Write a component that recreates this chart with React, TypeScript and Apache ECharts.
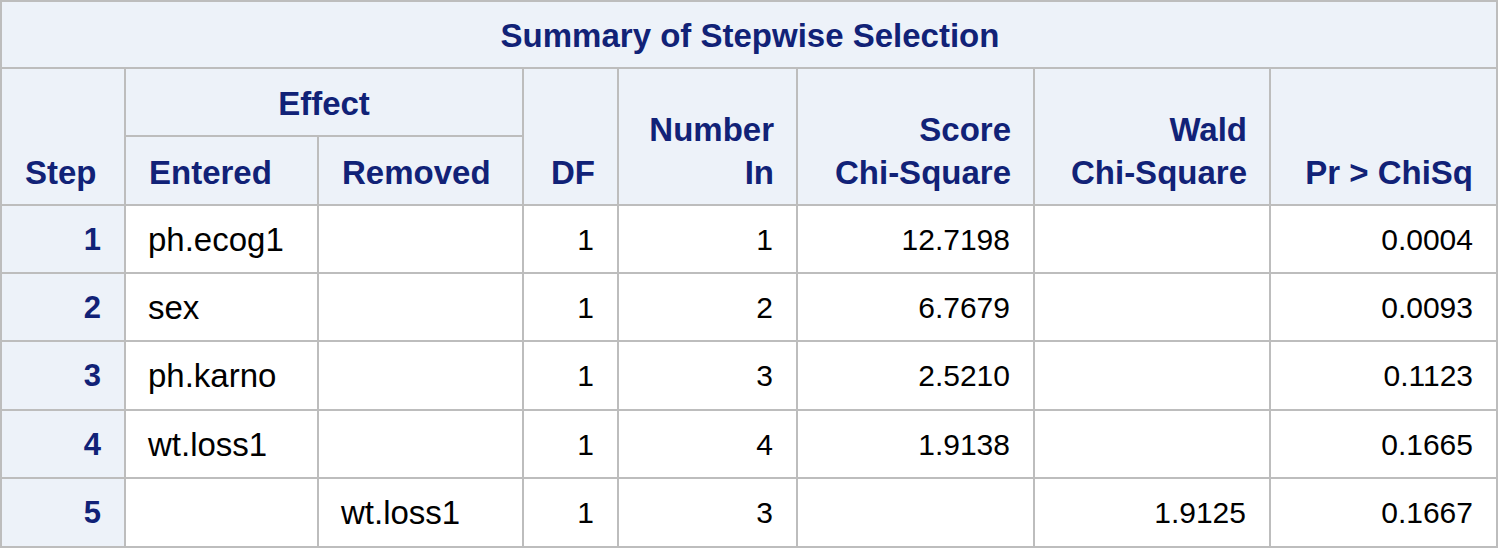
import {useEffect, useRef} from "react";
import * as echarts from "echarts";

const title = "Summary of Stepwise Selection";
const steps = ["1", "2", "3", "4", "5"];
const entered = ["ph.ecog1", "sex", "ph.karno", "wt.loss1", ""];
const removed = ["", "", "", "", "wt.loss1"];
const df = ["1", "1", "1", "1", "1"];
const numberIn = ["1", "2", "3", "4", "3"];
const scoreChiSq = ["12.7198", "6.7679", "2.5210", "1.9138", ""];
const waldChiSq = ["", "", "", "", "1.9125"];
const prChiSq = ["0.0004", "0.0093", "0.1123", "0.1665", "0.1667"];

const colX = [1, 125, 318, 523, 618, 797, 1034, 1270, 1497];
const rowY = [205, 273, 341, 410, 478, 547];
const HEAD_BG = "#EDF2F9";
const BLUE = "#112277";
const LINE = "#BDBDBD";
const FONT = "Liberation Sans, Arial, sans-serif";

export default function App() {
    const domRef = useRef<HTMLDivElement>(null);

    useEffect(() => {
        document.body.style.margin = "0";
        if (!domRef.current) return;
        const chart = echarts.init(domRef.current, null, {renderer: "svg"});
        const els: any[] = [];
        const cell = (x0: number, y0: number, x1: number, y1: number, fill: string) =>
            els.push({type: "rect", shape: {x: x0, y: y0, width: x1 - x0, height: y1 - y0},
                style: {fill, stroke: LINE, lineWidth: 2}});
        const text = (t: string, x: number, y: number, align: string, bold: boolean, color: string, size = 33) =>
            els.push({type: "text", x, y, style: {text: t, fill: color, font: `${bold ? "bold " : ""}${size}px ${FONT}`,
                align, verticalAlign: "middle"}});

        // title + headers
        cell(colX[0], 1, colX[8], 68, HEAD_BG);
        text(title, 750, 35, "center", true, BLUE);
        cell(colX[0], 68, colX[1], 205, HEAD_BG);
        cell(colX[1], 68, colX[3], 136, HEAD_BG);
        cell(colX[1], 136, colX[2], 205, HEAD_BG);
        cell(colX[2], 136, colX[3], 205, HEAD_BG);
        for (let c = 3; c < 8; c++) cell(colX[c], 68, colX[c + 1], 205, HEAD_BG);
        text("Effect", (colX[1] + colX[3]) / 2, 103, "center", true, BLUE);
        text("Step", 25, 172, "left", true, BLUE);
        text("Entered", 149, 172, "left", true, BLUE);
        text("Removed", 342, 172, "left", true, BLUE);
        text("DF", 595, 172, "right", true, BLUE);
        const twoLine = [["Number", "In", 4], ["Score", "Chi-Square", 5], ["Wald", "Chi-Square", 6]] as const;
        twoLine.forEach(([a, b, c]) => {
            text(a, colX[c + 1] - 23, 129, "right", true, BLUE);
            text(b, colX[c + 1] - 23, 172, "right", true, BLUE);
        });
        text("Pr > ChiSq", colX[8] - 24, 172, "right", true, BLUE);

        // body
        steps.forEach((s, r) => {
            const y0 = rowY[r], y1 = rowY[r + 1], ym = (y0 + y1) / 2;
            cell(colX[0], y0, colX[1], y1, HEAD_BG);
            for (let c = 1; c < 8; c++) cell(colX[c], y0, colX[c + 1], y1, "#ffffff");
            text(s, colX[1] - 24, ym, "right", true, BLUE, 31);
            text(entered[r], colX[1] + 23, ym, "left", false, "#000", 33);
            text(removed[r], colX[2] + 23, ym, "left", false, "#000", 33);
            const right = [df[r], numberIn[r], scoreChiSq[r], waldChiSq[r], prChiSq[r]];
            right.forEach((v, i) => text(v, colX[i + 4] - 24, ym, "right", false, "#000", 30));
        });

        chart.setOption({animation: false, graphic: {elements: els}});
        return () => chart.dispose();
    }, []);

    return <div ref={domRef} style={{width: 1500, height: 556}} />;
}
